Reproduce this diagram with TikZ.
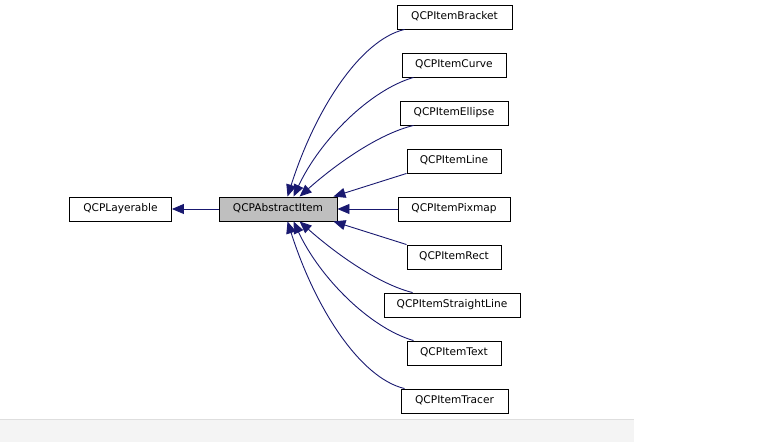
\documentclass[tikz,border=0pt]{standalone}
\usepackage{fontspec}
\setmainfont{DejaVu Sans}
\usetikzlibrary{arrows.meta}
\definecolor{edgeblue}{HTML}{191970}
\definecolor{boxgray}{HTML}{BFBFBF}
\definecolor{barfill}{HTML}{F4F4F4}
\definecolor{barline}{HTML}{DEDEDE}
\tikzset{
  cls/.style={draw=black, line width=0.9bp, fill=white, minimum height=24bp, inner sep=0pt,
    text height=8bp, text depth=2.2bp,
    font=\fontsize{10.6bp}{13bp}\selectfont},
  inh/.style={draw=edgeblue, line width=0.9bp, -{Triangle[length=12bp,width=10bp]}, fill=none},
}
\begin{document}
\begin{tikzpicture}[x=1bp,y=-1bp]
\useasboundingbox (0,0) rectangle (767,442);
\fill[barfill] (0,419) rectangle (634,442);
\draw[barline, line width=0.8bp] (0,419.4) -- (634,419.4);

\node[cls, minimum width=102bp] (lay) at (120.5,209) {QCPLayerable};
\node[cls, minimum width=118bp, fill=boxgray] (abs) at (278,209) {QCPAbstractItem};

\node[cls, minimum width=115bp] (bracket) at (454.5,17) {QCPItemBracket};
\node[cls, minimum width=104bp] (curve) at (454,65) {QCPItemCurve};
\node[cls, minimum width=108bp] (ellipse) at (454,113) {QCPItemEllipse};
\node[cls, minimum width=94bp] (line) at (454,161) {QCPItemLine};
\node[cls, minimum width=112bp] (pixmap) at (454,209) {QCPItemPixmap};
\node[cls, minimum width=94bp] (rect) at (454,257) {QCPItemRect};
\node[cls, minimum width=136bp] (sline) at (452,305) {QCPItemStraightLine};
\node[cls, minimum width=94bp] (text) at (454,353) {QCPItemText};
\node[cls, minimum width=107bp] (tracer) at (454.5,401) {QCPItemTracer};

\draw[inh] (abs.west) -- (lay.east);

\draw[inh] ([xshift=8bp]bracket.south west) .. controls (360,40) and (315,110) .. ([xshift=69bp]abs.north west);
\draw[inh] ([xshift=12bp]curve.south west) .. controls (370,90) and (320,140) .. ([xshift=75bp]abs.north west);
\draw[inh] ([xshift=14bp]ellipse.south west) .. controls (378,134) and (335,165) .. ([xshift=81bp]abs.north west);
\draw[inh] (line.south west) -- ([xshift=-4bp]abs.north east);
\draw[inh] (pixmap.west) -- (abs.east);
\draw[inh] (rect.north west) -- ([xshift=-4bp]abs.south east);
\draw[inh] ([xshift=29bp]sline.north west) .. controls (378,284) and (335,253) .. ([xshift=81bp]abs.south west);
\draw[inh] ([xshift=7bp]text.north west) .. controls (370,328) and (320,278) .. ([xshift=75bp]abs.south west);
\draw[inh] ([xshift=4bp]tracer.north west) .. controls (360,378) and (315,308) .. ([xshift=69bp]abs.south west);
\end{tikzpicture}
\end{document}
